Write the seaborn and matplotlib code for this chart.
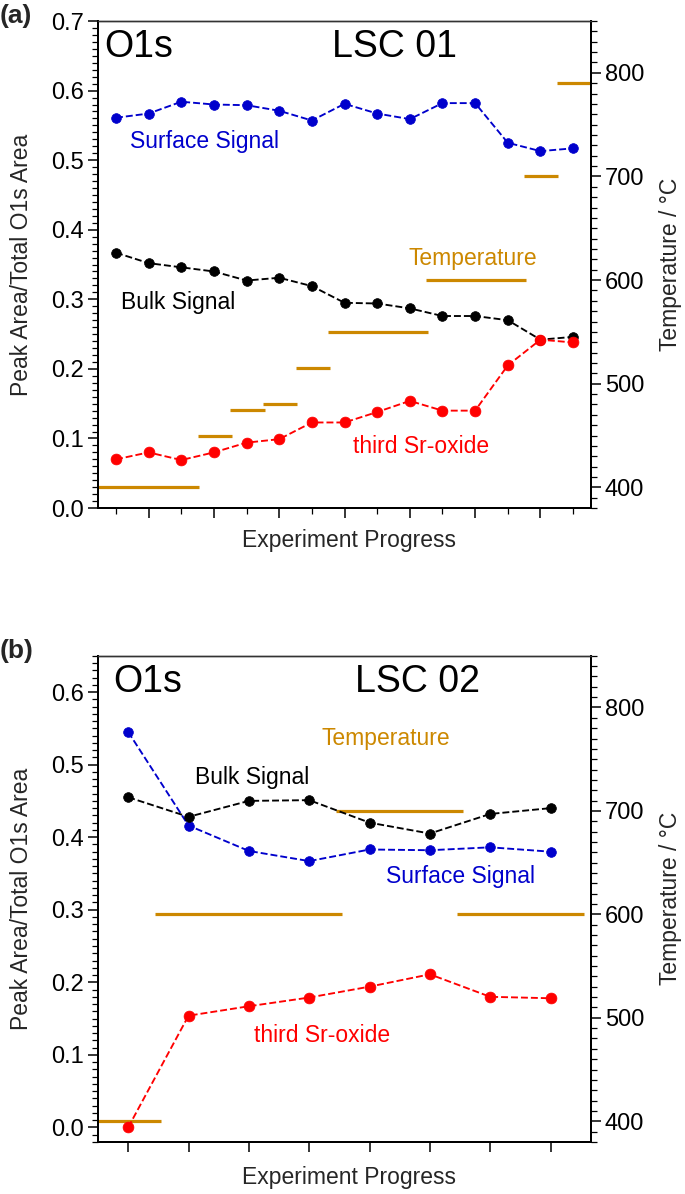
import numpy as np
import pandas as pd
import matplotlib
matplotlib.use("Agg")
import matplotlib.pyplot as plt
from matplotlib.ticker import MultipleLocator, FixedLocator, NullFormatter
import seaborn as sns

# ---- panel (a): LSC 01 ----
progress_a = list(range(15))
surface_a = [0.561, 0.567, 0.584, 0.580, 0.579, 0.571, 0.557, 0.581,
             0.567, 0.559, 0.582, 0.582, 0.525, 0.513, 0.517]
bulk_a = [0.367, 0.352, 0.346, 0.340, 0.327, 0.331, 0.319, 0.295,
          0.294, 0.287, 0.276, 0.276, 0.270, 0.242, 0.246]
oxide_a = [0.070, 0.080, 0.069, 0.080, 0.094, 0.099, 0.123, 0.123,
           0.138, 0.154, 0.140, 0.140, 0.205, 0.242, 0.238]
temp_a = [400, 450, 475, 480, 515, 550, 600, 700, 790]
temp_a_start = [-0.55, 2.5, 3.5, 4.5, 5.5, 6.5, 9.5, 12.5, 13.5]
temp_a_end = [2.55, 3.55, 4.55, 5.55, 6.55, 9.55, 12.55, 13.55, 14.55]

# ---- panel (b): LSC 02 ----
progress_b = list(range(8))
surface_b = [0.545, 0.416, 0.381, 0.367, 0.383, 0.382, 0.386, 0.380]
bulk_b = [0.455, 0.428, 0.450, 0.451, 0.420, 0.405, 0.432, 0.440]
oxide_b = [0.000, 0.154, 0.167, 0.179, 0.194, 0.211, 0.180, 0.178]
temp_b = [400, 600, 700, 600]
temp_b_start = [-0.5, 0.45, 3.45, 5.45]
temp_b_end = [0.55, 3.55, 5.55, 7.55]

BLUE = "#0000CC"
BLACK = "#000000"
RED = "#FF0000"
ORANGE = "#CC8800"

sns.set_theme(style="ticks")
plt.rcParams["font.family"] = ["Liberation Sans", "DejaVu Sans"]
plt.rcParams["axes.grid"] = False


def draw_panel(ax, x, surface, bulk, oxide, t_start, t_end, temps,
               xlim, ylim, yticks, xmajor, xminor, texts, tag, xlab_y):
    """One O1s panel with the temperature steps on a twin axis."""
    ax2 = ax.twinx()
    ax.set_zorder(ax2.get_zorder() + 1)
    ax.patch.set_visible(False)

    for vals, col, ms in [(surface, BLUE, 7.0), (bulk, BLACK, 7.0), (oxide, RED, 7.8)]:
        df = pd.DataFrame({"x": x, "y": vals})
        sns.lineplot(data=df, x="x", y="y", ax=ax, color=col, linestyle="--",
                     dashes=(4, 3.2), linewidth=1.35, marker="o", markersize=ms,
                     markeredgecolor=col, markeredgewidth=0.5, sort=False)

    ax2.hlines(temps, t_start, t_end, color=ORANGE, linewidth=2.3)

    ax.set_xlim(*xlim)
    ax.set_ylim(*ylim)
    ax2.set_ylim(380, 850)

    ax.set_yticks(yticks)
    ax.set_yticklabels([f"{v:.1f}" for v in yticks])
    ax.yaxis.set_minor_locator(MultipleLocator(0.01))
    ax2.set_yticks([400, 500, 600, 700, 800])
    ax2.yaxis.set_minor_locator(MultipleLocator(10))

    ax.xaxis.set_major_locator(FixedLocator(xmajor))
    ax.xaxis.set_minor_locator(FixedLocator(xminor))
    ax.xaxis.set_major_formatter(NullFormatter())

    for a in (ax, ax2):
        a.tick_params(which="major", length=7, width=1.1, labelsize=17,
                      direction="out", color="black", labelcolor="black", pad=3)
        a.tick_params(which="minor", length=4, width=0.9, direction="out",
                      color="black")
        for side in ("left", "right", "bottom"):
            a.spines[side].set_visible(True)
            a.spines[side].set_color("black")
            a.spines[side].set_linewidth(1.4)
        a.spines["top"].set_visible(True)
        a.spines["top"].set_color("#333333")
        a.spines["top"].set_linewidth(1.0)
    ax2.tick_params(axis="y", which="both", left=False, right=True)
    ax.tick_params(axis="y", which="both", right=False)

    ax.set_xlabel("Experiment Progress", fontsize=16.5)
    ax.set_ylabel("Peak Area/Total O1s Area", fontsize=16.5)
    ax2.set_ylabel("Temperature / \u00b0C", fontsize=16.5)
    ax.yaxis.set_label_coords(-0.132, 0.5)
    ax2.yaxis.set_label_coords(1.138, 0.5)
    ax.xaxis.set_label_coords(0.51, xlab_y)

    for tx, ty, s, col, size in texts:
        ax.text(tx, ty, s, color=col, fontsize=size, ha="left", va="center")

    ax.figure.text(0.0, ax.get_position().y1 + 0.004, tag, fontsize=19,
                   fontweight="bold", ha="left", va="center")


fig = plt.figure(figsize=(6.85, 11.94), dpi=100)
ax_a = fig.add_axes([0.1431, 0.5745, 0.7197, 0.4079])
ax_b = fig.add_axes([0.1431, 0.0436, 0.7197, 0.4072])

texts_a = [
    (-0.37, 0.662, "O1s", BLACK, 27),
    (6.62, 0.662, "LSC 01", BLACK, 27),
    (0.43, 0.527, "Surface Signal", BLUE, 16.5),
    (0.14, 0.295, "Bulk Signal", BLACK, 16.5),
    (7.26, 0.088, "third Sr-oxide", RED, 16.5),
    (8.96, 0.358, "Temperature", ORANGE, 16.5),
]
draw_panel(ax_a, progress_a, surface_a, bulk_a, oxide_a,
           temp_a_start, temp_a_end, temp_a,
           xlim=(-0.55, 14.55), ylim=(0.0, 0.7),
           yticks=[0.0, 0.1, 0.2, 0.3, 0.4, 0.5, 0.6, 0.7],
           xmajor=list(range(1, 15, 2)), xminor=list(range(0, 15, 2)),
           texts=texts_a, tag="(a)", xlab_y=-0.042)

texts_b = [
    (-0.25, 0.614, "O1s", BLACK, 27),
    (3.76, 0.614, "LSC 02", BLACK, 27),
    (1.10, 0.482, "Bulk Signal", BLACK, 16.5),
    (4.28, 0.346, "Surface Signal", BLUE, 16.5),
    (2.08, 0.126, "third Sr-oxide", RED, 16.5),
    (3.21, 0.536, "Temperature", ORANGE, 16.5),
]
draw_panel(ax_b, progress_b, surface_b, bulk_b, oxide_b,
           temp_b_start, temp_b_end, temp_b,
           xlim=(-0.5, 7.67), ylim=(-0.02, 0.65),
           yticks=[0.0, 0.1, 0.2, 0.3, 0.4, 0.5, 0.6],
           xmajor=list(range(8)), xminor=[],
           texts=texts_b, tag="(b)", xlab_y=-0.05)

fig.savefig("out.png", dpi=100)
